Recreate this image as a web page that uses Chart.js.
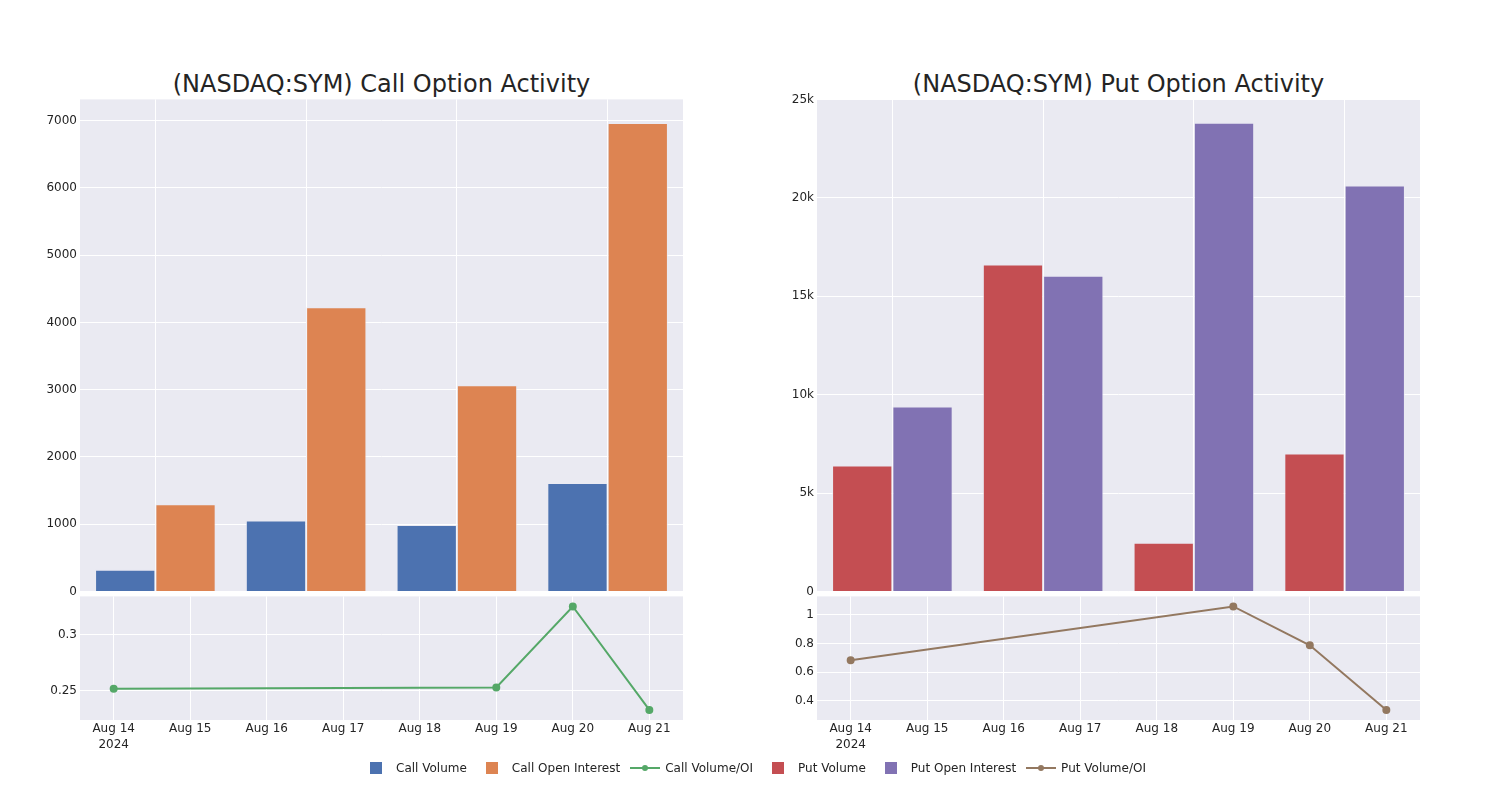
<!DOCTYPE html>
<html>
<head>
<meta charset="utf-8">
<script src="https://cdn.jsdelivr.net/npm/chart.js@4.4.1/dist/chart.umd.min.js"></script>
<style>
  body { margin: 0; background: #fff; font-family: "DejaVu Sans", sans-serif; color: rgb(36,36,36); }
  #wrap { position: relative; width: 1500px; height: 800px; overflow: hidden; }
  canvas { position: absolute; }
  .title { position: absolute; top: 68px; width: 603px; text-align: center; font-size: 24px; line-height: 32px; white-space: nowrap; }
  #legend { position: absolute; top: 760px; left: 356px; display: flex; font-size: 12px; line-height: 16px; white-space: nowrap; }
  .item { display: flex; align-items: center; margin-right: 5px; }
  .sym { position: relative; width: 40px; height: 16px; }
  .sq { position: absolute; left: 14px; top: 2px; width: 12px; height: 12px; }
  .ln { position: absolute; left: 5px; top: 7px; width: 30px; height: 2px; }
  .dot { position: absolute; left: 17px; top: 5px; width: 6px; height: 6px; border-radius: 50%; }
</style>
</head>
<body>
<div id="wrap">
  <div class="title" style="left:80px">(NASDAQ:SYM) Call Option Activity</div>
  <div class="title" style="left:817px">(NASDAQ:SYM) Put Option Activity</div>
  <canvas id="callBars" width="693" height="515" style="left:0;top:88px"></canvas>
  <canvas id="callRatio" width="693" height="180" style="left:0;top:585px"></canvas>
  <canvas id="putBars" width="693" height="515" style="left:737px;top:88px"></canvas>
  <canvas id="putRatio" width="693" height="180" style="left:737px;top:585px"></canvas>
  <div id="legend"></div>
</div>
<script>
const barDates = ["2024-08-14", "2024-08-19", "2024-08-20", "2024-08-21"];
const callVolume = [324, 1055, 991, 1612];
const callOpenInterest = [1299, 4224, 3066, 6961];
const putVolume = [6404, 16619, 2487, 7017];
const putOpenInterest = [9397, 16037, 23820, 20633];

const ratioDates = ["2024-08-14", "2024-08-19", "2024-08-20", "2024-08-21"];
const callRatio = [0.2518, 0.2529, 0.325, 0.233];
const putRatio = [0.683, 1.058, 0.787, 0.337];

const tickDates = ["2024-08-14", "2024-08-15", "2024-08-16", "2024-08-17", "2024-08-18", "2024-08-19", "2024-08-20", "2024-08-21"];
const callBarTicks = [0, 1000, 2000, 3000, 4000, 5000, 6000, 7000];
const putBarTicks = [0, 5000, 10000, 15000, 20000, 25000];
const callRatioTicks = [0.25, 0.3];
const putRatioTicks = [0.4, 0.6, 0.8, 1];

const colors = {
    callVolume: "#4C72B0",
    callOI: "#DD8452",
    callRatio: "#55A868",
    putVolume: "#C44E52",
    putOI: "#8172B3",
    putRatio: "#937860"
};

const textColor = "rgb(36,36,36)";
const tickFont = { family: "DejaVu Sans", size: 12, lineHeight: 1.4 };
const baseDay = Date.parse(tickDates[0]);
const months = ["Jan", "Feb", "Mar", "Apr", "May", "Jun", "Jul", "Aug", "Sep", "Oct", "Nov", "Dec"];

function dayOf(d) {
    return (Date.parse(d) - baseDay) / 86400000;
}

function dateLabel(d, first) {
    const dt = new Date(d + "T00:00:00Z");
    const s = months[dt.getUTCMonth()] + " " + dt.getUTCDate();
    return first ? [s, String(dt.getUTCFullYear())] : s;
}

const bgPlugin = {
    id: "plotBg",
    beforeDraw(chart) {
        const a = chart.chartArea;
        const c = chart.ctx;
        c.save();
        c.fillStyle = "#EAEAF2";
        c.fillRect(a.left, a.top, a.right - a.left, a.bottom - a.top);
        c.restore();
    }
};

function barChart(id, labels, series, names, cols, max, ticks, fmt) {
    return new Chart(document.getElementById(id), {
        type: "bar",
        data: {
            labels: labels,
            datasets: series.map((s, i) => ({
                label: names[i],
                data: s,
                backgroundColor: cols[i],
                borderColor: "rgba(234,234,242,0.7)",
                borderWidth: 1,
                categoryPercentage: 0.8,
                barPercentage: 1.0
            }))
        },
        options: {
            responsive: false,
            animation: false,
            layout: { padding: { top: 10, right: 10, bottom: 0, left: 0 } },
            plugins: { legend: { display: false }, tooltip: { enabled: false } },
            scales: {
                x: {
                    offset: true,
                    grid: { color: "#ffffff", lineWidth: 1, offset: false, drawTicks: false },
                    border: { display: false },
                    ticks: { display: false },
                    afterFit(scale) { scale.height = 8; }
                },
                y: {
                    min: 0,
                    max: max,
                    grid: { color: "#ffffff", lineWidth: 1, drawTicks: false },
                    border: { display: false },
                    ticks: { color: textColor, font: tickFont, padding: 3, callback: fmt },
                    afterBuildTicks(scale) { scale.ticks = ticks.map(v => ({ value: v })); },
                    afterFit(scale) { scale.width = 80; }
                }
            }
        },
        plugins: [bgPlugin]
    });
}

function ratioChart(id, dates, values, name, col, min, max, ticks) {
    return new Chart(document.getElementById(id), {
        type: "line",
        data: {
            datasets: [{
                label: name,
                data: dates.map((d, i) => ({ x: dayOf(d), y: values[i] })),
                borderColor: col,
                backgroundColor: col,
                pointBackgroundColor: col,
                pointBorderColor: col,
                borderWidth: 2,
                pointRadius: 3,
                tension: 0
            }]
        },
        options: {
            responsive: false,
            animation: false,
            layout: { padding: { top: 10, right: 10, bottom: 0, left: 0 } },
            plugins: { legend: { display: false }, tooltip: { enabled: false } },
            scales: {
                x: {
                    type: "linear",
                    min: -0.44,
                    max: tickDates.length - 1 + 0.44,
                    grid: { color: "#ffffff", lineWidth: 1, drawTicks: false },
                    border: { display: false },
                    ticks: {
                        color: textColor,
                        font: tickFont,
                        padding: 0,
                        maxRotation: 0,
                        autoSkip: false,
                        callback: (v, i) => dateLabel(tickDates[i], i === 0)
                    },
                    afterBuildTicks(scale) { scale.ticks = tickDates.map(d => ({ value: dayOf(d) })); },
                    afterFit(scale) { scale.height = 45; }
                },
                y: {
                    min: min,
                    max: max,
                    grid: { color: "#ffffff", lineWidth: 1, drawTicks: false },
                    border: { display: false },
                    ticks: { color: textColor, font: tickFont, padding: 3, callback: v => String(v) },
                    afterBuildTicks(scale) { scale.ticks = ticks.map(v => ({ value: v })); },
                    afterFit(scale) { scale.width = 80; }
                }
            }
        },
        plugins: [bgPlugin]
    });
}

const kFmt = v => (v === 0 ? "0" : (v / 1000) + "k");

barChart("callBars", barDates, [callVolume, callOpenInterest], ["Call Volume", "Call Open Interest"],
    [colors.callVolume, colors.callOI], 7313, callBarTicks, v => String(v));
barChart("putBars", barDates, [putVolume, putOpenInterest], ["Put Volume", "Put Open Interest"],
    [colors.putVolume, colors.putOI], 25000, putBarTicks, kFmt);
ratioChart("callRatio", ratioDates, callRatio, "Call Volume/OI", colors.callRatio, 0.224, 0.334, callRatioTicks);
ratioChart("putRatio", ratioDates, putRatio, "Put Volume/OI", colors.putRatio, 0.267, 1.128, putRatioTicks);

// legend built from the series names/colours
const legendItems = [
    ["Call Volume", colors.callVolume, "bar"],
    ["Call Open Interest", colors.callOI, "bar"],
    ["Call Volume/OI", colors.callRatio, "line"],
    ["Put Volume", colors.putVolume, "bar"],
    ["Put Open Interest", colors.putOI, "bar"],
    ["Put Volume/OI", colors.putRatio, "line"]
];
const legend = document.getElementById("legend");
legendItems.forEach(([name, col, kind]) => {
    const item = document.createElement("div");
    item.className = "item";
    const sym = kind === "bar"
        ? `<div class="sq" style="background:${col}"></div>`
        : `<div class="ln" style="background:${col}"></div><div class="dot" style="background:${col}"></div>`;
    item.innerHTML = `<div class="sym">${sym}</div><span>${name}</span>`;
    legend.appendChild(item);
});
</script>
</body>
</html>
